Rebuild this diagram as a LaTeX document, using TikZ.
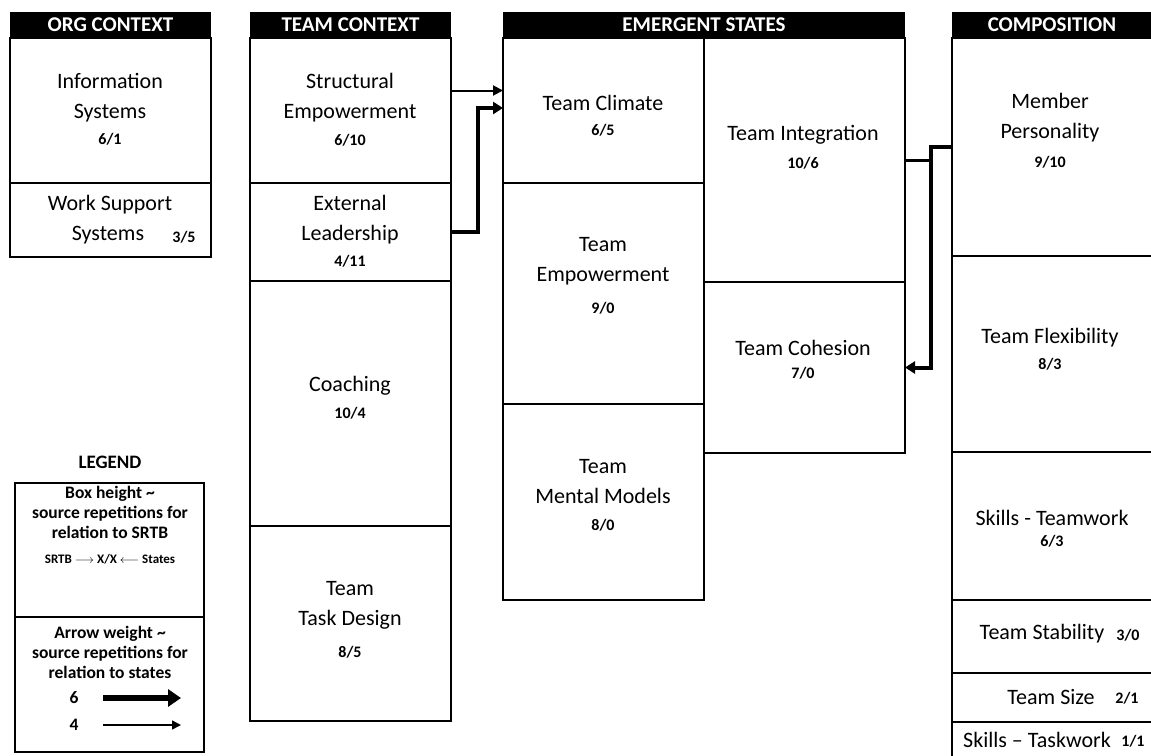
\documentclass[tikz,border=0pt]{standalone}
\usepackage{fontspec}
\setmainfont{Carlito}
\usetikzlibrary{arrows.meta}
\newcommand\lblfont{\fontsize{22}{30}\selectfont}
\newcommand\numfont{\fontsize{16}{18}\selectfont\bfseries}
\newcommand\hdrfont{\fontsize{21}{24}\selectfont\bfseries}
\newcommand\legfont{\fontsize{17.5}{20}\selectfont\bfseries}
\newcommand\srtbfont{\fontsize{13}{15}\selectfont\bfseries}
\begin{document}
\begin{tikzpicture}[x=1pt,y=-1pt,
  cell/.style={draw, line width=1.5pt, anchor=north west, inner sep=0pt, outer sep=0pt},
  hdr/.style={fill=black, text=white, font=\hdrfont, anchor=north west, inner sep=0pt, outer sep=0pt, minimum height=26pt},
  lbl/.style={align=center, font=\lblfont, inner sep=0pt},
  num/.style={font=\numfont, inner sep=0pt},
  leg/.style={align=center, font=\legfont, inner sep=0pt},
  thinarrow/.style={line width=2pt, -{Triangle[length=10pt,width=10pt]}},
  thickarrow/.style={line width=4pt, -{Triangle[length=10pt,width=12pt]}},
  thickline/.style={line width=3pt},
]
\useasboundingbox (0,0) rectangle (1151,755);

% ---------------- ORG CONTEXT ----------------
\node[hdr, minimum width=201pt] (hOrg) at (10,12) {ORG CONTEXT};
\node[cell, minimum width=201pt, minimum height=145pt] (infosys) at (10,38) {};
\node[cell, minimum width=201pt, minimum height=74pt] (worksup) at (10,183) {};
\node[lbl] (tInfo) at (110,98) {Information\\Systems};
\node[num] (nInfo) at (110,139) {6/1};
\node[lbl] (tWork1) at (110,205) {Work Support};
\node[lbl] (tWork2) at (108,235) {Systems};
\node[num] (nWork) at (184,237) {3/5};

% ---------------- TEAM CONTEXT ----------------
\node[hdr, minimum width=201pt] (hTeam) at (250,12) {TEAM CONTEXT};
\node[cell, minimum width=201pt, minimum height=145pt] (strEmp) at (250,38) {};
\node[cell, minimum width=201pt, minimum height=98pt] (extLead) at (250,183) {};
\node[cell, minimum width=201pt, minimum height=245pt] (coach) at (250,281) {};
\node[cell, minimum width=201pt, minimum height=195pt] (task) at (250,526) {};
\node[lbl] (tStr) at (350,98) {Structural\\Empowerment};
\node[num] (nStr) at (350,140) {6/10};
\node[lbl] (tExt) at (350,219.5) {External\\Leadership};
\node[num] (nExt) at (350,261) {4/11};
\node[lbl] (tCoach) at (350,386) {Coaching};
\node[num] (nCoach) at (350,413) {10/4};
\node[lbl] (tTask) at (350,605) {Team\\Task Design};
\node[num] (nTask) at (350,652) {8/5};

% ---------------- EMERGENT STATES ----------------
\node[hdr, minimum width=402pt] (hEm) at (503,12) {EMERGENT STATES};
\node[cell, minimum width=201pt, minimum height=145pt] (climate) at (503,38) {};
\node[cell, minimum width=201pt, minimum height=221pt] (tempow) at (503,183) {};
\node[cell, minimum width=201pt, minimum height=196pt] (mental) at (503,404) {};
\node[cell, minimum width=201pt, minimum height=244pt] (integ) at (704,38) {};
\node[cell, minimum width=201pt, minimum height=171pt] (cohes) at (704,282) {};
\node[lbl] (tClim) at (603,103) {Team Climate};
\node[num] (nClim) at (603,130) {6/5};
\node[lbl] (tInteg) at (803,135) {Team Integration};
\node[num] (nInteg) at (803,163) {10/6};
\node[lbl] (tTemp) at (603,261.5) {Team\\Empowerment};
\node[num] (nTemp) at (603,308) {9/0};
\node[lbl] (tCoh) at (803,348) {Team Cohesion};
\node[num] (nCoh) at (803,373) {7/0};
\node[lbl] (tMent) at (603,482) {Team\\Mental Models};
\node[num] (nMent) at (603,525) {8/0};

% ---------------- COMPOSITION ----------------
\node[hdr, minimum width=210pt] (hComp) at (952,12) {\hspace*{-10pt}COMPOSITION};
\node[cell, minimum width=210pt, minimum height=218pt] (member) at (952,38) {};
\node[cell, minimum width=210pt, minimum height=196pt] (flex) at (952,256) {};
\node[cell, minimum width=210pt, minimum height=148pt] (teamwork) at (952,452) {};
\node[cell, minimum width=210pt, minimum height=73pt] (stab) at (952,600) {};
\node[cell, minimum width=210pt, minimum height=49pt] (tsize) at (952,673) {};
\node[cell, minimum width=210pt, minimum height=45pt] (taskw) at (952,722) {};
\node[lbl] (tMem) at (1050,117.5) {Member\\Personality};
\node[num] (nMem) at (1050,162) {9/10};
\node[lbl] (tFlex) at (1050,338) {Team Flexibility};
\node[num] (nFlex) at (1050,364) {8/3};
\node[lbl] (tTw) at (1052,518) {Skills - Teamwork};
\node[num] (nTw) at (1052,541) {6/3};
\node[lbl] (tStab) at (1042,634) {Team Stability};
\node[num] (nStab) at (1128,635) {3/0};
\node[lbl] (tSize) at (1051,697) {Team Size};
\node[num] (nSize) at (1127,698) {2/1};
\node[lbl] (tTaskw) at (1037,740) {Skills -- Taskwork};
\node[num] (nTaskw) at (1133,741) {1/1};

% ---------------- CONNECTORS ----------------
\draw[thinarrow] ([yshift=20pt]strEmp.east) -- ([yshift=20pt]strEmp.east -| climate.west);
\draw[thickarrow] (extLead.east) -| ([xshift=-25pt,yshift=2.5pt]climate.west) -- ([yshift=2.5pt]climate.west);
\draw[thickarrow] (member.west) -- ++(-21,0) |- (cohes.east);
\draw[thickline] (integ.east) -- ++(27.5,0);

% ---------------- LEGEND ----------------
\node[font=\fontsize{19}{22}\selectfont\bfseries, inner sep=0pt] (legT) at (110,462) {LEGEND};
\node[cell, minimum width=189pt, minimum height=134pt] (legA) at (15,483) {};
\node[cell, minimum width=189pt, minimum height=135pt] (legB) at (15,617) {};
\node[leg] (legA1) at (110,512) {Box height \textasciitilde\\source repetitions for\\relation to SRTB};
\node[font=\srtbfont, inner sep=0pt] (legA2) at (110,559) {SRTB $\longrightarrow$ X/X $\longleftarrow$ States};
\node[leg] (legB1) at (110,652) {Arrow weight \textasciitilde\\source repetitions for\\relation to states};
\node[font=\legfont, inner sep=0pt] (leg6) at (74,698) {6};
\node[font=\legfont, inner sep=0pt] (leg4) at (74,725) {4};
\coordinate (l6a) at (103,698);
\coordinate (l6b) at (181,698);
\coordinate (l4a) at (103,725);
\coordinate (l4b) at (181,725);
\draw[line width=6pt, -{Triangle[length=13pt,width=17pt]}] (l6a) -- (l6b);
\draw[line width=1.5pt, -{Triangle[length=9pt,width=9pt]}] (l4a) -- (l4b);
\end{tikzpicture}
\end{document}
